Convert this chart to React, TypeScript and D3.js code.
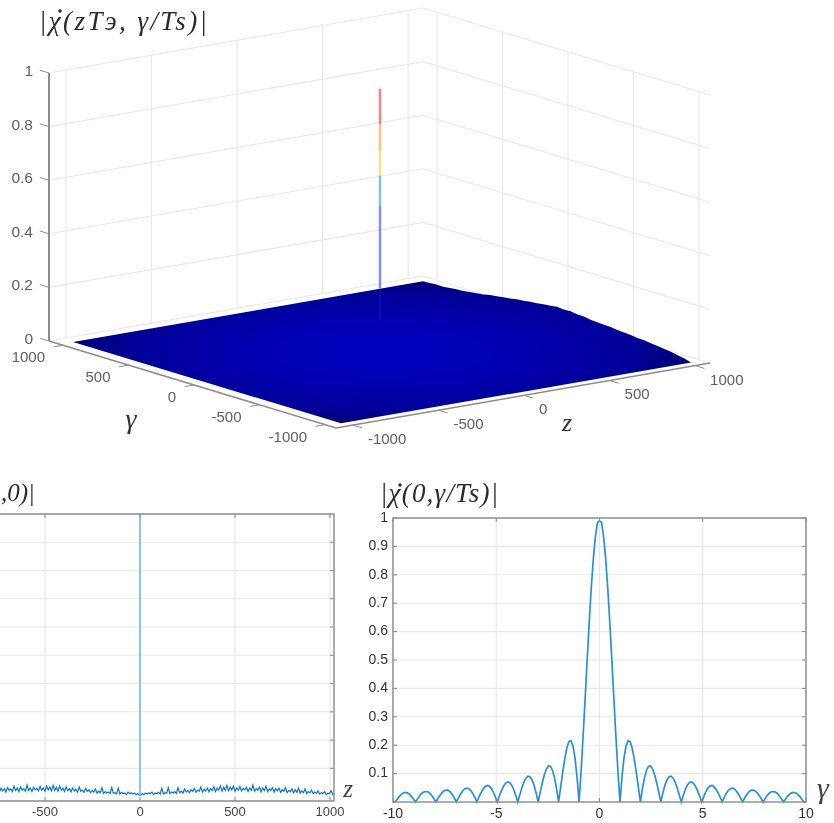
import * as d3 from "d3";

// 3D plot ticks and limits
const zTicks = [-1000, -500, 0, 500, 1000];
const gammaTicks = [1000, 500, 0, -500, -1000];
const heightTicks = [0, 0.2, 0.4, 0.6, 0.8, 1];
const heightLabels = ["0", "0.2", "0.4", "0.6", "0.8", "1"];
const surfaceExtent = 1023;

// height of the surface along its far edge z = 1023, gamma going 1023 -> -1023
const edgeHeights = [
  0, 0.001, 0.003, 0.002, 0.005, 0.008, 0.009, 0.013, 0.016, 0.019, 0.024,
  0.027, 0.031, 0.034, 0.039, 0.041, 0.045, 0.047, 0.051, 0.053, 0.056,
  0.054, 0.055, 0.051, 0.05, 0.046, 0.044, 0.042, 0.041, 0.038, 0.036,
  0.034, 0.031, 0.03, 0.026, 0.024, 0.02, 0.017, 0.012, 0.007, 0,
];

// centre spike of the surface, coloured bands as seen
const spikeEdges = [0.12, 0.24, 0.548, 0.66, 0.754, 0.854, 0.985];
const spikeColors = ["#2238d8", "#3346e4", "#2f9fb0", "#eed22c", "#ff9430", "#f03038"];
const spikeZ = -12;

// |chi(z, 0)| for z >= 0, evenly spaced to z = 1023
const noiseValues = [
  0.004, 0.011, 0.007, 0.013, 0.009, 0.014, 0.01, 0.016, 0.008, 0.013, 0.011, 0.015,
  0.009, 0.03, 0.01, 0.014, 0.012, 0.032, 0.011, 0.016, 0.013, 0.018, 0.011, 0.031,
  0.014, 0.019, 0.012, 0.027, 0.016, 0.021, 0.014, 0.024, 0.018, 0.029, 0.015, 0.023,
  0.019, 0.034, 0.016, 0.026, 0.02, 0.031, 0.017, 0.028, 0.021, 0.035, 0.018, 0.03,
  0.023, 0.038, 0.019, 0.033, 0.022, 0.04, 0.02, 0.034, 0.024, 0.037, 0.019, 0.031,
  0.023, 0.036, 0.02, 0.029, 0.024, 0.033, 0.018, 0.03, 0.022, 0.041, 0.019, 0.028,
  0.023, 0.034, 0.017, 0.03, 0.021, 0.037, 0.018, 0.027, 0.022, 0.032, 0.016, 0.028,
  0.02, 0.03, 0.015, 0.025, 0.019, 0.032, 0.014, 0.022, 0.017, 0.027, 0.013, 0.024,
  0.015, 0.03, 0.012, 0.02, 0.014, 0.027, 0.011, 0.018, 0.013, 0.023, 0.01, 0.016,
  0.012, 0.02, 0.009, 0.014, 0.011, 0.017, 0.008, 0.012, 0.01, 0.021, 0.007, 0.011,
];
const lowerLeftXTicks = [-500, 0, 500, 1000];
const lowerLeftYTicks = [0.1, 0.2, 0.3, 0.4, 0.5, 0.6, 0.7, 0.8, 0.9];

// |chi(0, gamma)| for gamma = 0, 0.1, ... 10
const lobeValues = [
  0.99, 0.984, 0.935, 0.858, 0.757, 0.637, 0.505, 0.368, 0.234, 0.109, 0,
  0.089, 0.156, 0.198, 0.216, 0.212, 0.189, 0.151, 0.104, 0.052, 0,
  0.047, 0.085, 0.112, 0.126, 0.127, 0.116, 0.095, 0.067, 0.034, 0,
  0.032, 0.059, 0.078, 0.089, 0.091, 0.084, 0.07, 0.049, 0.025, 0,
  0.024, 0.045, 0.06, 0.069, 0.071, 0.066, 0.055, 0.039, 0.02, 0,
  0.019, 0.036, 0.049, 0.056, 0.058, 0.054, 0.045, 0.032, 0.017, 0,
  0.016, 0.03, 0.041, 0.047, 0.049, 0.046, 0.038, 0.028, 0.014, 0,
  0.014, 0.026, 0.035, 0.041, 0.042, 0.04, 0.033, 0.024, 0.013, 0,
  0.012, 0.023, 0.031, 0.036, 0.037, 0.035, 0.03, 0.021, 0.011, 0,
  0.011, 0.02, 0.028, 0.032, 0.034, 0.032, 0.027, 0.019, 0.01, 0,
];
const lowerRightXTicks = [-10, -5, 0, 5, 10];
const lowerRightYTicks = [0.1, 0.2, 0.3, 0.4, 0.5, 0.6, 0.7, 0.8, 0.9, 1];

const GRID = "#e8e8e8";
const AXIS = "#8c8c8c";
const LABEL = "#5e5e5e";
const LINE = "#2b90d6";
const SERIF = "'Liberation Serif', serif";
const SANS = "'Liberation Sans', Arial, sans-serif";

// oblique projection of the 3D box, the four floor corners come from the picture
const tz = d3.scaleLinear().domain([-1099, 1087]).range([0, 1]);
const tg = d3.scaleLinear().domain([1107, -1084]).range([0, 1]);
const th = d3.scaleLinear().domain([0, 1]).range([0, 268]);
const [zMin, zMax] = tz.domain();
const [gMax, gMin] = tg.domain();

function P(z: number, g: number, h = 0): [number, number] {
  return [49 + 374 * tz(z) + 287 * tg(g), 341 - 65 * tz(z) + 87 * tg(g) - th(h)];
}

const seg = (a: [number, number], b: [number, number]) => d3.line()([a, b]) as string;

function Surface3D() {
  const edgeGamma = d3.scaleLinear().domain([0, edgeHeights.length - 1]).range([surfaceExtent, -surfaceExtent]);
  const outline: [number, number][] = [
    P(-surfaceExtent, surfaceExtent),
    P(-surfaceExtent, -surfaceExtent),
    ...edgeHeights.slice().reverse().map((h, i) => P(surfaceExtent, edgeGamma(edgeHeights.length - 1 - i), h)),
  ];
  const c = P(0, 0);
  const ux = P(surfaceExtent, 0);
  const uy = P(0, surfaceExtent);
  const gradientMatrix = `matrix(${ux[0] - c[0]} ${ux[1] - c[1]} ${uy[0] - c[0]} ${uy[1] - c[1]} ${c[0]} ${c[1]})`;

  return (
    <g>
      <defs>
        <radialGradient id="floorBlue" gradientUnits="userSpaceOnUse" cx={0} cy={0} r={1.42} gradientTransform={gradientMatrix}>
          <stop offset="0" stopColor="#0000c0" />
          <stop offset="0.45" stopColor="#0000b0" />
          <stop offset="0.8" stopColor="#000098" />
          <stop offset="1" stopColor="#000074" />
        </radialGradient>
      </defs>

      {/* walls */}
      {zTicks.map((z) => (
        <path key={z} d={seg(P(z, gMax), P(z, gMax, 1))} stroke={GRID} strokeWidth={1.1} fill="none" />
      ))}
      {gammaTicks.map((g) => (
        <path key={g} d={seg(P(zMax, g), P(zMax, g, 1))} stroke={GRID} strokeWidth={1.1} fill="none" />
      ))}
      {heightTicks.map((h) => (
        <path
          key={h}
          d={d3.line()([P(zMin, gMax, h), P(zMax, gMax, h), P(zMax, gMin, h)]) as string}
          stroke={GRID}
          strokeWidth={1.1}
          fill="none"
        />
      ))}

      {/* surface */}
      <path d={d3.line()(outline) + "Z"} fill="url(#floorBlue)" />
      {spikeColors.map((col, i) => (
        <path
          key={col}
          d={seg(P(spikeZ, 0, spikeEdges[i]), P(spikeZ, 0, spikeEdges[i + 1]))}
          stroke={col}
          strokeWidth={i === 0 ? 1.4 : 2.5}
          strokeOpacity={i === 0 ? 0.35 : 0.6}
          fill="none"
        />
      ))}

      {/* axes */}
      <path d={seg(P(zMin, gMax), P(zMin, gMax, 1))} stroke={AXIS} strokeWidth={2} fill="none" />
      <path d={seg(P(zMin, gMax), P(zMin, gMin))} stroke={AXIS} strokeWidth={1.5} fill="none" />
      <path d={seg(P(zMin, gMin), P(zMax, gMin))} stroke={AXIS} strokeWidth={1.5} fill="none" />

      {heightTicks.map((h, i) => {
        const [x, y] = P(zMin, gMax, h);
        return (
          <g key={h}>
            <path d={seg([x, y], P(zMin, gMax + 70, h))} stroke={AXIS} strokeWidth={1} fill="none" />
            <text x={x - 16} y={y - 1} textAnchor="end" dominantBaseline="middle" fontSize={15.5} fontFamily={SANS} fill={LABEL}>
              {heightLabels[i]}
            </text>
          </g>
        );
      })}
      {gammaTicks.map((g) => {
        const [x, y] = P(zMin, g);
        return (
          <g key={g}>
            <path d={seg([x, y], P(zMin - 55, g))} stroke={AXIS} strokeWidth={1} fill="none" />
            <text x={x - 18} y={y + 13} textAnchor="end" dominantBaseline="middle" fontSize={15} fontFamily={SANS} fill={LABEL}>
              {g}
            </text>
          </g>
        );
      })}
      {zTicks.map((z) => {
        const [x, y] = P(z, gMin);
        return (
          <g key={z}>
            <path d={seg([x, y], P(z, gMin - 70))} stroke={AXIS} strokeWidth={1} fill="none" />
            <text x={x + 15} y={y + 15} dominantBaseline="middle" fontSize={15} fontFamily={SANS} fill={LABEL}>
              {z}
            </text>
          </g>
        );
      })}

      <text x={131} y={428} textAnchor="middle" fontSize={28} fontStyle="italic" fontFamily={SERIF} fill="#333">γ</text>
      <text x={567} y={431} textAnchor="middle" fontSize={26} fontStyle="italic" fontFamily={SERIF} fill="#333">z</text>
      <text x={39} y={30} fontSize={27} letterSpacing={2.4} fontStyle="italic" fontFamily={SERIF} fill="#2b2b2b">|χ(zTэ, γ/Ts)|</text>
      <circle cx={60} cy={11} r={1.7} fill="#2b2b2b" />
    </g>
  );
}

function LowerLeft() {
  const x = d3.scaleLinear().domain([-1000, 1000]).range([-50, 330]);
  const y = d3.scaleLinear().domain([0, 1]).range([796.6, 514]);
  const bottom = 801;
  const right = 334;
  const zStep = d3.scaleLinear().domain([0, noiseValues.length - 1]).range([3, 1023]);
  const pos = noiseValues.map((v, i) => [zStep(i), v] as [number, number]);
  const series: [number, number][] = [
    ...pos.slice().reverse().map(([z, v]) => [-z, v] as [number, number]),
    ...pos,
  ];
  const line = d3.line<[number, number]>().x((d) => x(d[0])).y((d) => y(d[1]));

  return (
    <g>
      {lowerLeftXTicks.map((t) => (
        <path key={t} d={seg([x(t), 514], [x(t), bottom])} stroke={GRID} strokeWidth={1.1} fill="none" />
      ))}
      {lowerLeftYTicks.map((t) => (
        <path key={t} d={seg([-60, y(t)], [right, y(t)])} stroke={GRID} strokeWidth={1.1} fill="none" />
      ))}
      <path d={line(series) as string} stroke="#0f78c6" strokeWidth={1.2} fill="none" />
      <path d={line([[0, pos[0][1]], [0, 1]]) as string} stroke="#86bfe8" strokeWidth={1.8} fill="none" />
      <path d={`M-60,514H${right}V${bottom}H-60`} stroke={AXIS} strokeWidth={1.4} fill="none" />
      {lowerLeftYTicks.map((t) => (
        <path key={t} d={seg([right - 4, y(t)], [right, y(t)])} stroke={AXIS} strokeWidth={1} fill="none" />
      ))}
      {lowerLeftXTicks.map((t) => (
        <g key={t}>
          <path d={seg([x(t), 514], [x(t), 518])} stroke={AXIS} strokeWidth={1} fill="none" />
          <path d={seg([x(t), bottom - 4], [x(t), bottom])} stroke={AXIS} strokeWidth={1} fill="none" />
          <text x={x(t)} y={813} textAnchor="middle" dominantBaseline="middle" fontSize={13} fontFamily={SANS} fill="#444">
            {t}
          </text>
        </g>
      ))}
      <text x={348} y={797} textAnchor="middle" fontSize={25} fontStyle="italic" fontFamily={SERIF} fill="#444">z</text>
      {/* the plot runs off the left edge of the picture, only the tail of its title shows */}
      <text x={1} y={501} fontSize={25} fontStyle="italic" fontFamily={SERIF} fill="#2b2b2b">,0)|</text>
    </g>
  );
}

function LowerRight() {
  const x = d3.scaleLinear().domain([-10, 10]).range([393, 806]);
  const y = d3.scaleLinear().domain([0, 1]).range([802, 518]);
  const idx = d3.scaleLinear().domain([0, lobeValues.length]).range([0, 10]);
  const half = lobeValues.map((v, i) => [idx(i), v] as [number, number]);
  half.push([10, 0]);
  const series: [number, number][] = [
    ...half.slice(1).reverse().map(([g, v]) => [-g, v] as [number, number]),
    ...half,
  ];
  const line = d3.line<[number, number]>().x((d) => x(d[0])).y((d) => y(d[1]));

  return (
    <g>
      {lowerRightXTicks.map((t) => (
        <path key={t} d={seg([x(t), 518], [x(t), 802])} stroke={GRID} strokeWidth={1.1} fill="none" />
      ))}
      {lowerRightYTicks.map((t) => (
        <path key={t} d={seg([393, y(t)], [806, y(t)])} stroke={GRID} strokeWidth={1.1} fill="none" />
      ))}
      <path d={line(series) as string} stroke={LINE} strokeWidth={1.7} fill="none" />
      <rect x={393} y={518} width={413} height={284} stroke={AXIS} strokeWidth={1.4} fill="none" />
      {lowerRightYTicks.map((t) => (
        <g key={t}>
          <path d={seg([393, y(t)], [397, y(t)])} stroke={AXIS} strokeWidth={1} fill="none" />
          <path d={seg([802, y(t)], [806, y(t)])} stroke={AXIS} strokeWidth={1} fill="none" />
          <text x={388} y={y(t)} textAnchor="end" dominantBaseline="middle" fontSize={14} fontFamily={SANS} fill="#333">
            {t}
          </text>
        </g>
      ))}
      {lowerRightXTicks.map((t) => (
        <g key={t}>
          <path d={seg([x(t), 518], [x(t), 522])} stroke={AXIS} strokeWidth={1} fill="none" />
          <path d={seg([x(t), 798], [x(t), 802])} stroke={AXIS} strokeWidth={1} fill="none" />
          <text x={x(t)} y={814} textAnchor="middle" dominantBaseline="middle" fontSize={14} fontFamily={SANS} fill="#333">
            {t}
          </text>
        </g>
      ))}
      <text x={823} y={798} textAnchor="middle" fontSize={30} fontStyle="italic" fontFamily={SERIF} fill="#444">γ</text>
      <text x={380} y={502} fontSize={27} letterSpacing={1.2} fontStyle="italic" fontFamily={SERIF} fill="#2b2b2b">|χ(0,γ/Ts)|</text>
      <circle cx={400} cy={485} r={1.7} fill="#2b2b2b" />
    </g>
  );
}

export default function App() {
  return (
    <svg width={834} height={823} viewBox="0 0 834 823" style={{ position: "absolute", left: 0, top: 0, background: "#fff" }}>
      <defs>
        <filter id="soft" x="-5%" y="-5%" width="110%" height="110%">
          <feGaussianBlur stdDeviation="0.55" />
        </filter>
      </defs>
      <g filter="url(#soft)">
        <Surface3D />
        <LowerLeft />
        <LowerRight />
      </g>
    </svg>
  );
}
